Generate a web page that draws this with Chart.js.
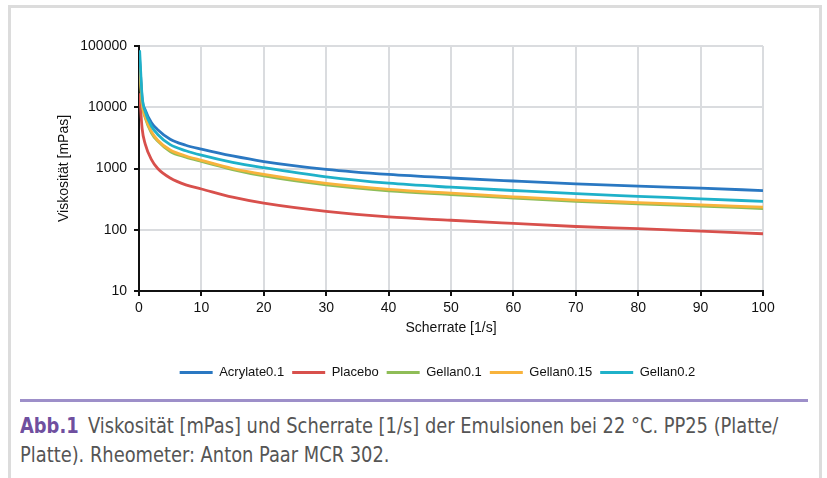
<!DOCTYPE html>
<html>
<head>
<meta charset="utf-8">
<script src="https://cdn.jsdelivr.net/npm/chart.js@4/dist/chart.umd.min.js"></script>
<style>
  html, body { margin: 0; padding: 0; background: #fff; }
  body { width: 827px; height: 478px; position: relative; overflow: hidden; }
  .frame {
    position: absolute; left: 8px; top: 5px; width: 814px; height: 500px;
    border: 3px solid #dcdcdc; box-sizing: border-box;
  }
  #chart { position: absolute; left: 0; top: 0; }
  .rule { position: absolute; left: 20px; top: 399px; width: 788px; height: 3px; background: #9d8fc9; }
  .caption {
    position: absolute; left: 20px; top: 412px; white-space: nowrap;
    font-family: "Liberation Sans Narrow", "DejaVu Sans Condensed", sans-serif;
    font-stretch: condensed;
    font-size: 21px; line-height: 29px; color: #555;
    transform: scaleX(0.945); transform-origin: left top;
  }
  .caption b { color: #6f4f9f; font-weight: bold; margin-right: 4px; }
</style>
</head>
<body>
<div class="frame"></div>
<canvas id="chart" width="827" height="392"></canvas>
<div class="rule"></div>
<div class="caption"><b>Abb.1</b> Viskosität [mPas] und Scherrate [1/s] der Emulsionen bei 22 °C. PP25 (Platte/<br>Platte). Rheometer: Anton Paar MCR 302.</div>

<script>
// Scherrate [1/s]
const shearRate = [0.1, 0.5, 1, 2, 3, 5, 7.5, 10, 15, 20, 30, 40, 50, 60, 70, 80, 90, 100];

// Viskosität [mPas]
const acrylate01 = [60000, 14000, 9000, 5600, 4300, 3000, 2400, 2070, 1600, 1300, 970, 800, 700, 625, 562, 515, 478, 436];
const placebo    = [17000, 4500, 2500, 1400, 1000, 700, 540, 463, 340, 272, 200, 162, 143, 127, 113, 104, 95, 86];
const gellan01   = [45000, 11500, 6700, 3800, 2800, 1900, 1530, 1300, 960, 755, 540, 432, 375, 330, 292, 265, 243, 222];
const gellan015  = [50000, 12000, 7000, 4000, 2900, 2000, 1600, 1360, 1000, 800, 570, 455, 395, 345, 305, 278, 255, 234];
const gellan02   = [85000, 15000, 8500, 4900, 3600, 2450, 1950, 1650, 1260, 1030, 730, 575, 495, 437, 388, 352, 320, 290];

const yTicks = [10, 100, 1000, 10000, 100000];

function toPoints(values) {
    return shearRate.map((x, i) => ({ x: x, y: values[i] }));
}

function series(label, values, color, order) {
    return {
        label: label,
        data: toPoints(values),
        borderColor: color,
        backgroundColor: color,
        borderWidth: 2.8,
        pointRadius: 0,
        cubicInterpolationMode: 'monotone',
        order: order
    };
}

const tickFont = { family: 'Liberation Sans, Arial, sans-serif', size: 14 };

// Legende im Original sitzt etwas weiter rechts (mittig unter der Zeichenfläche)
const shiftLegend = {
    id: 'shiftLegend',
    afterLayout: function(chart) {
        chart.legend.left += 30;
        chart.legend.right += 30;
    }
};

new Chart(document.getElementById('chart').getContext('2d'), {
    type: 'line',
    data: {
        datasets: [
            series('Acrylate0.1', acrylate01, '#2a78c2', 5),
            series('Placebo', placebo, '#d8504c', 4),
            series('Gellan0.1', gellan01, '#8fbd57', 3),
            series('Gellan0.15', gellan015, '#f8b33c', 2),
            series('Gellan0.2', gellan02, '#1fb1c9', 1)
        ]
    },
    plugins: [shiftLegend],
    options: {
        responsive: false,
        animation: false,
        layout: { padding: { left: 52, right: 64, top: 46, bottom: 3 } },
        plugins: {
            tooltip: { enabled: false },
            legend: {
                position: 'bottom',
                labels: {
                    usePointStyle: true,
                    pointStyle: 'line',
                    pointStyleWidth: 33,
                    padding: 8,
                    color: '#111',
                    font: { family: 'Liberation Sans, Arial, sans-serif', size: 13 },
                    sort: (a, b) => a.datasetIndex - b.datasetIndex
                }
            }
        },
        scales: {
            x: {
                type: 'linear',
                min: 0,
                max: 100,
                ticks: { stepSize: 10, color: '#111', font: tickFont, padding: 4, maxRotation: 0 },
                grid: { color: '#dadcdf', lineWidth: 2, tickColor: '#111', tickLength: 5, tickWidth: 2 },
                border: { color: '#111', width: 2 },
                title: {
                    display: true,
                    text: 'Scherrate [1/s]',
                    color: '#111',
                    font: tickFont,
                    padding: { top: 4, bottom: 21 }
                },
                afterFit: function(scale) { scale.height = 67; }
            },
            y: {
                type: 'logarithmic',
                min: 10,
                max: 100000,
                afterBuildTicks: function(scale) {
                    scale.ticks = yTicks.map(v => ({ value: v }));
                },
                ticks: {
                    color: '#111',
                    font: tickFont,
                    padding: 7,
                    callback: function(value) { return String(value); }
                },
                grid: { color: '#dadcdf', lineWidth: 2, tickColor: '#111', tickLength: 5, tickWidth: 2 },
                border: { color: '#111', width: 2 },
                title: {
                    display: true,
                    text: 'Viskosität [mPas]',
                    color: '#111',
                    font: tickFont,
                    padding: { top: 4, bottom: 4 }
                },
                afterFit: function(scale) { scale.width = 87; }
            }
        }
    }
});
</script>
</body>
</html>
